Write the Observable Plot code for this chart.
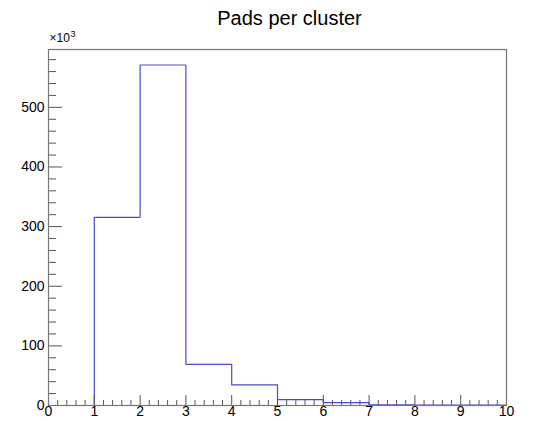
<!DOCTYPE html>
<html>
<head>
<meta charset="utf-8">
<script src="https://cdn.jsdelivr.net/npm/d3@7"></script>
<script src="https://cdn.jsdelivr.net/npm/@observablehq/plot@0.6"></script>
<style>
  html, body { margin: 0; padding: 0; background: #fff; }
  svg { display: block; }
</style>
</head>
<body>
<div id="chart"></div>
<script>
// Histogram "Pads per cluster" (counts in thousands)
const title = "Pads per cluster";
const binLow = [0, 1, 2, 3, 4, 5, 6, 7, 8, 9];
const counts = [0, 315.5, 571, 69, 34.5, 10, 4.7, 1.2, 0.8, 0.6];
const xMax = 10;
const yMax = 597;
const xMajor = [0, 1, 2, 3, 4, 5, 6, 7, 8, 9, 10];
const yMajor = [0, 100, 200, 300, 400, 500];
const exponentBase = "×10";
const exponentPower = "3";

const W = 543, H = 421;
const M = {top: 49, right: 37, bottom: 16, left: 48};
const plotW = W - M.left - M.right;
const plotH = H - M.top - M.bottom;

// step outline points: each bin's low edge, plus the final upper edge
const steps = binLow.map((x, i) => ({x, y: counts[i]}));
steps.push({x: xMax, y: counts[counts.length - 1]});

const xMinor = d3.range(0, xMax + 1e-9, 0.2).filter(v => Math.abs(v - Math.round(v)) > 1e-6);
const yMinor = d3.range(0, yMax, 20).filter(v => v % 100 !== 0);

const font = "'Liberation Sans', Arial, Helvetica, sans-serif";
const tickColor = "#555";

const chart = Plot.plot({
  width: W,
  height: H,
  marginTop: M.top,
  marginRight: M.right,
  marginBottom: M.bottom,
  marginLeft: M.left,
  style: {fontFamily: font, background: "#fff", color: "#000"},
  x: {domain: [0, xMax]},
  y: {domain: [0, yMax]},
  marks: [
    Plot.line(steps, {x: "x", y: "y", curve: "step-after", stroke: "#4a4ad4", strokeWidth: 1.2}),
    // x ticks (inward)
    Plot.tickX(xMajor, {x: d => d, stroke: tickColor, insetTop: plotH - 10}),
    Plot.tickX(xMinor, {x: d => d, stroke: tickColor, insetTop: plotH - 5}),
    // y ticks (inward)
    Plot.tickY(yMajor, {y: d => d, stroke: tickColor, insetRight: plotW - 14}),
    Plot.tickY(yMinor, {y: d => d, stroke: tickColor, insetRight: plotW - 8}),
    Plot.frame({stroke: "#777", strokeWidth: 1.2}),
    Plot.axisX({ticks: xMajor, tickSize: 0, tickPadding: 1, fontSize: 14, label: null, tickFormat: d => String(d)}),
    Plot.axisY({ticks: yMajor, tickSize: 0, tickPadding: 4, fontSize: 14, label: null, tickFormat: d => String(d)}),
    Plot.text([title], {frameAnchor: "top", lineAnchor: "bottom", dy: -25, dx: 12, fontSize: 20, fill: "#000"}),
    Plot.text([exponentBase], {frameAnchor: "top-left", textAnchor: "start", lineAnchor: "bottom", dy: -8, dx: 1, fontSize: 12, fill: "#000"}),
    Plot.text([exponentPower], {frameAnchor: "top-left", textAnchor: "start", lineAnchor: "bottom", dy: -13, dx: 22, fontSize: 9, fill: "#000"})
  ]
});

document.getElementById("chart").appendChild(chart);
</script>
</body>
</html>
